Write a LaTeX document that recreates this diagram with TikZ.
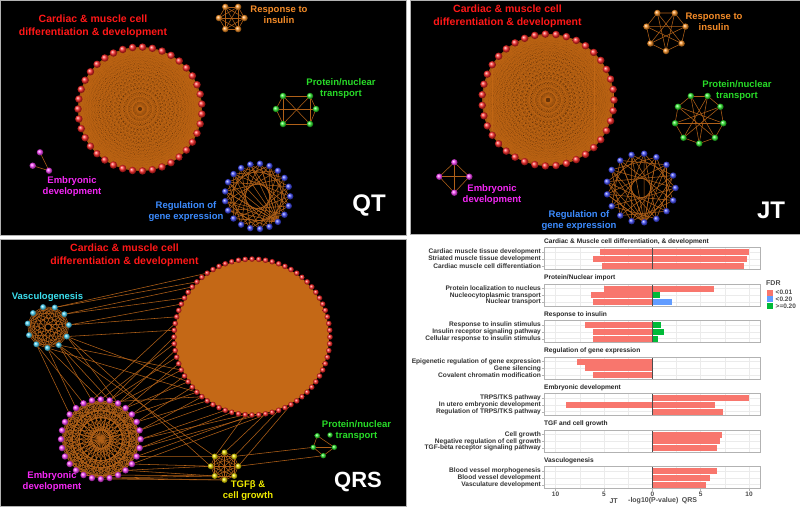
\documentclass[tikz,border=0pt]{standalone}
\usepackage{fontspec}
\setmainfont{Liberation Sans}
\usepackage{tikz}
\usetikzlibrary{positioning}

\definecolor{edgebrown}{RGB}{176,96,24}
\definecolor{hairorange}{RGB}{192,102,20}
\definecolor{hairfill}{RGB}{100,50,8}
\definecolor{qrsfill}{RGB}{196,104,22}
\definecolor{labred}{RGB}{255,24,24}
\definecolor{laborange}{RGB}{245,140,40}
\definecolor{labgreen}{RGB}{40,220,40}
\definecolor{labmagenta}{RGB}{245,40,245}
\definecolor{labblue}{RGB}{60,140,255}
\definecolor{labcyan}{RGB}{60,225,240}
\definecolor{labyellow}{RGB}{240,235,0}
\definecolor{ballred}{RGB}{255,40,40}
\definecolor{ballorange}{RGB}{255,150,40}
\definecolor{ballgreen}{RGB}{50,240,50}
\definecolor{ballmagenta}{RGB}{255,70,255}
\definecolor{ballblue}{RGB}{70,80,255}
\definecolor{ballcyan}{RGB}{80,220,255}
\definecolor{ballyellow}{RGB}{240,225,0}
\definecolor{fdrred}{HTML}{F8766D}
\definecolor{fdrblue}{HTML}{619CFF}
\definecolor{fdrgreen}{HTML}{00BA38}
\definecolor{gridgray}{HTML}{EBEBEB}
\definecolor{axisgray}{HTML}{4D4D4D}

\pgfdeclarelayer{panels}
\pgfdeclarelayer{edges}
\pgfsetlayers{panels,edges,main}

\begin{document}
\begin{tikzpicture}[x=1pt, y=-1pt,
    gball/.style={circle, inner sep=0pt, minimum size=#1, shade},
    redball/.style={gball=7.5pt, ball color=ballred},
    smallred/.style={gball=5.6pt, ball color=ballred},
    orangeball/.style={gball=6.5pt, ball color=ballorange},
    greenball/.style={gball=6.5pt, ball color=ballgreen},
    magentaball/.style={gball=6.5pt, ball color=ballmagenta},
    blueball/.style={gball=6.5pt, ball color=ballblue},
    cyanball/.style={gball=6pt, ball color=ballcyan},
    yellowball/.style={gball=6pt, ball color=ballyellow},
    hair/.style={draw=hairorange, line width=0.22pt},
    link/.style={draw=edgebrown, line width=0.55pt},
    nettitle/.style={font=\bfseries\fontsize{10.5}{13}\selectfont, text=labred, align=center, inner sep=0pt},
    netlabel/.style={font=\bfseries\fontsize{9.5}{11}\selectfont, align=center, inner sep=0pt},
    paneltag/.style={font=\bfseries\fontsize{24}{24}\selectfont, text=white, inner sep=0pt},
    panel/.style={fill=black, draw=gray!60, line width=0.8pt},
    facet/.style={draw=gray!60, line width=0.6pt},
    facettitle/.style={font=\bfseries\fontsize{6.6}{7}\selectfont, text=black!85, anchor=west, inner sep=0pt},
    rowlabel/.style={font=\bfseries\fontsize{6.6}{7}\selectfont, text=black!80, anchor=east, inner sep=0pt},
    ticklabel/.style={font=\bfseries\fontsize{6.5}{7}\selectfont, text=black!70, inner sep=0pt},
  ]
\useasboundingbox (0,0) rectangle (800,507);

% Panels
\begin{pgfonlayer}{panels}
  \fill[white] (0,0) rectangle (800,507);
  \draw[panel] (0,0) rectangle (406,235);
  \draw[panel] (410,0) rectangle (800,234);
  \draw[panel] (0,239) rectangle (406,506);
  \fill[hairfill] (140,109) circle (60pt);
  \fill[hairfill] (548,100) circle (64pt);
  \fill[qrsfill] (252,337) circle (77pt);
\end{pgfonlayer}

% QT nodes
\foreach \i in {1,...,39}
  \node[redball] (qtc\i) at ({140+62*cos(9.2308*\i-4.6)}, {109+62*sin(9.2308*\i-4.6)}) {};
\foreach \i in {1,...,6}
  \node[orangeball] (qti\i) at ({231.7+12.8*cos(60*\i)}, {18+12.8*sin(60*\i)}) {};
\node[greenball] (qtp1) at (283,96) {};
\node[greenball] (qtp2) at (310,96) {};
\node[greenball] (qtp3) at (316,109) {};
\node[greenball] (qtp4) at (310,124) {};
\node[greenball] (qtp5) at (283,124) {};
\node[greenball] (qtp6) at (276,109) {};
\node[magentaball] (qte1) at (40,152.3) {};
\node[magentaball] (qte2) at (32.7,165.7) {};
\node[magentaball] (qte3) at (49,170.7) {};
\foreach \i in {1,...,21}
  \node[blueball] (qtb\i) at ({257.5+32.7*cos(17.143*\i+34.3)}, {196.3+32.7*sin(17.143*\i+34.3)}) {};

% QT edges
\begin{pgfonlayer}{edges}
  \foreach \i in {1,...,38} {
    \pgfmathtruncatemacro\nxt{\i+1}
    \foreach \j in {\nxt,...,39}
      \draw[hair] (qtc\i.center) -- (qtc\j.center);
  }
  \foreach \i in {1,...,5} {
    \pgfmathtruncatemacro\nxt{\i+1}
    \foreach \j in {\nxt,...,6}
      \draw[link] (qti\i.center) -- (qti\j.center);
  }
  \foreach \a/\b in {1/2,2/4,4/5,5/1,1/4,2/5,6/1,6/5,3/2,3/4,6/3}
    \draw[link] (qtp\a.center) -- (qtp\b.center);
  \draw[link] (qte1.center) -- (qte3.center) (qte2.center) -- (qte3.center);
  \foreach \i in {1,...,21} {
    \foreach \k in {5,8} {
      \pgfmathtruncatemacro\j{mod(\i+\k-1,21)+1}
      \draw[link] (qtb\i.center) -- (qtb\j.center);
    }
  }
  \foreach \j in {6,...,16}
    \draw[link] (qtb1.center) -- (qtb\j.center);
\end{pgfonlayer}

% QT labels
\node[nettitle] (qtcardiac) at (93,26.5) {Cardiac \& muscle cell\\differentiation \& development};
\node[netlabel, text=laborange] (qtinsulin) at (279,15) {Response to\\insulin};
\node[netlabel, text=labgreen] (qtprotein) at (341,89) {Protein/nuclear\\transport};
\node[netlabel, text=labmagenta] (qtembryo) at (72,187) {Embryonic\\development};
\node[netlabel, text=labblue] (qtgene) at (186,212) {Regulation of\\gene expression};
\node[paneltag] (qttag) at (369,205) {QT};

% JT nodes
\foreach \i in {1,...,39}
  \node[redball] (jtc\i) at ({548+66*cos(9.2308*\i)}, {100+66*sin(9.2308*\i)}) {};
\foreach \i in {1,...,7}
  \node[orangeball] (jti\i) at ({666+20*cos(51.43*\i+244.3)}, {31+20*sin(51.43*\i+244.3)}) {};
\foreach \i in {1,...,9}
  \node[greenball] (jtp\i) at ({699.2+24.5*cos(40*\i+250)}, {119+24.5*sin(40*\i+250)}) {};
\node[magentaball] (jte1) at (454.3,162.3) {};
\node[magentaball] (jte2) at (439.3,176.7) {};
\node[magentaball] (jte3) at (469.3,176.7) {};
\node[magentaball] (jte4) at (454.3,192.7) {};
\foreach \i in {1,...,17}
  \node[blueball] (jtb\i) at ({641+34.5*cos(21.176*\i+63.5)}, {188+34.5*sin(21.176*\i+63.5)}) {};

% JT edges
\begin{pgfonlayer}{edges}
  \foreach \i in {1,...,38} {
    \pgfmathtruncatemacro\nxt{\i+1}
    \foreach \j in {\nxt,...,39}
      \draw[hair] (jtc\i.center) -- (jtc\j.center);
  }
  \foreach \i in {1,...,7} {
    \foreach \k in {1,3} {
      \pgfmathtruncatemacro\j{mod(\i+\k-1,7)+1}
      \draw[link] (jti\i.center) -- (jti\j.center);
    }
  }
  \foreach \i in {1,...,9} {
    \foreach \k in {1,4} {
      \pgfmathtruncatemacro\j{mod(\i+\k-1,9)+1}
      \draw[link] (jtp\i.center) -- (jtp\j.center);
    }
  }
  \foreach \a/\b in {1/2,1/3,2/4,3/4,2/3,1/4}
    \draw[link] (jte\a.center) -- (jte\b.center);
  \foreach \i in {1,...,17} {
    \foreach \k in {4,7} {
      \pgfmathtruncatemacro\j{mod(\i+\k-1,17)+1}
      \draw[link] (jtb\i.center) -- (jtb\j.center);
    }
  }
  \foreach \j in {5,...,14}
    \draw[link] (jtb1.center) -- (jtb\j.center);
\end{pgfonlayer}

% JT labels
\node[nettitle] (jtcardiac) at (507.5,16.5) {Cardiac \& muscle cell\\differentiation \& development};
\node[netlabel, text=laborange] (jtinsulin) at (714,21.5) {Response to\\insulin};
\node[netlabel, text=labgreen] (jtprotein) at (737,90.5) {Protein/nuclear\\transport};
\node[netlabel, text=labmagenta] (jtembryo) at (492,194.5) {Embryonic\\development};
\node[netlabel, text=labblue] (jtgene) at (579,221) {Regulation of\\gene expression};
\node[paneltag] (jttag) at (771,210) {JT};

% QRS nodes
\foreach \i in {1,...,72}
  \node[smallred] (qrsc\i) at ({252+78*cos(5*\i)}, {337+78*sin(5*\i)}) {};
\foreach \i in {1,...,11}
  \node[cyanball] (qrsv\i) at ({48.2+20.8*cos(32.727*\i-6.1)}, {327.2+20.8*sin(32.727*\i-6.1)}) {};
\foreach \i in {1,...,28}
  \node[magentaball] (qrse\i) at ({100.8+39.8*cos(12.857*\i)}, {439.2+39.8*sin(12.857*\i)}) {};
\foreach \i in {1,...,8}
  \node[yellowball] (qrst\i) at ({224.5+13.8*cos(45*\i)}, {466.2+13.8*sin(45*\i)}) {};
\node[greenball, minimum size=5.5pt] (qrsp1) at (317.3,435.7) {};
\node[greenball, minimum size=5.5pt] (qrsp2) at (330,435) {};
\node[greenball, minimum size=5.5pt] (qrsp3) at (334.3,447.3) {};
\node[greenball, minimum size=5.5pt] (qrsp4) at (323.3,455.7) {};
\node[greenball, minimum size=5.5pt] (qrsp5) at (313.3,447.3) {};

% QRS edges
\begin{pgfonlayer}{edges}
  \foreach \i in {1,...,10} {
    \pgfmathtruncatemacro\nxt{\i+1}
    \foreach \j in {\nxt,...,11}
      \draw[link] (qrsv\i.center) -- (qrsv\j.center);
  }
  \foreach \i in {1,...,28} {
    \foreach \k in {4,7,9,12,14} {
      \pgfmathtruncatemacro\j{mod(\i+\k-1,28)+1}
      \draw[link] (qrse\i.center) -- (qrse\j.center);
    }
  }
  \foreach \i in {1,...,7} {
    \pgfmathtruncatemacro\nxt{\i+1}
    \foreach \j in {\nxt,...,8}
      \draw[link] (qrst\i.center) -- (qrst\j.center);
  }
  \foreach \a/\b in {1/3,5/3,4/3,5/4,1/5}
    \draw[link] (qrsp\a.center) -- (qrsp\b.center);
  \foreach \a/\b in {qrsv9/qrsc47, qrsv9/qrsc45, qrsv10/qrsc44, qrsv10/qrsc42, qrsv11/qrsc41,
      qrsv11/qrsc39, qrsv1/qrsc37, qrsv4/qrse17, qrsv4/qrse19, qrsv3/qrse18, qrsv3/qrse21,
      qrsv2/qrse20, qrsv2/qrse22, qrsv1/qrse23, qrsv2/qrsc31, qrsv1/qrsc29, qrsv3/qrsc27,
      qrsv2/qrst5, qrsv1/qrst4, qrse20/qrsc38, qrse21/qrsc35, qrse22/qrsc36, qrse22/qrsc33,
      qrse23/qrsc31, qrse23/qrsc34, qrse24/qrsc29, qrse24/qrsc32, qrse25/qrsc27, qrse25/qrsc30,
      qrse26/qrsc25, qrse26/qrsc28, qrse27/qrsc24, qrse27/qrsc26, qrse28/qrsc22, qrse28/qrsc19,
      qrse1/qrsc21, qrse1/qrsc17, qrse2/qrsc18, qrse3/qrsc15, qrse19/qrsc26, qrse3/qrst4,
      qrse4/qrst4, qrse4/qrst3, qrse5/qrst3, qrse6/qrst3, qrse6/qrst2, qrse7/qrst2, qrse2/qrst5,
      qrsc16/qrst6, qrsc14/qrst7, qrsc19/qrst5, qrsc12/qrst8, qrst7/qrsp5, qrst8/qrsp4}
    \draw[link] (\a.center) -- (\b.center);
\end{pgfonlayer}

% QRS labels
\node[nettitle] (qrscardiac) at (124.5,255) {Cardiac \& muscle cell\\differentiation \& development};
\node[netlabel, text=labcyan] (qrsvasc) at (47.5,297) {Vasculogenesis};
\node[netlabel, text=labmagenta] (qrsembryo) at (52,481.5) {Embryonic\\development};
\node[netlabel, text=labyellow] (qrstgf) at (248,490.5) {TGFβ \&\\cell growth};
\node[netlabel, text=labgreen] (qrsprotein) at (356.5,431) {Protein/nuclear\\transport};
\node[paneltag, font=\bfseries\fontsize{22}{22}\selectfont] (qrstag) at (358,482) {QRS};

% Chart
\begin{scope}[shift={(652.3,0)}, x=9.67pt]
  \foreach \t/\name [count=\f] in {247.7/{Cardiac \& Muscle cell differentiation, \& development},
      284.2/{Protein/Nuclear import}, 320.7/{Response to insulin},
      357.2/{Regulation of gene expression}, 393.7/{Embryonic development},
      430.2/{TGF and cell growth}, 466.7/{Vasculogenesis}} {
    \node[facettitle] (facet\f) at (-11.2,\t-6) {\name};
    \foreach \g in {-10,-7.5,...,10}
      \draw[gridgray, line width=0.5pt] (\g,\t) -- (\g,\t+21.6);
    \foreach \r in {4.4,11.2,18} {
      \draw[gridgray, line width=0.5pt] (-11.2,\t+\r) -- (11.14,\t+\r);
      \draw[gray!60] (-11.45,\t+\r) -- (-11.2,\t+\r);
    }
  }
  \foreach \y/\l/\r/\c/\name [count=\k] in {
      252.1/5.4/10/fdrred/{Cardiac muscle tissue development},
      258.9/6.17/9.84/fdrred/{Striated muscle tissue development},
      265.7/5.2/9.5/fdrred/{Cardiac muscle cell differentiation},
      288.6/4.96/6.38/fdrred/{Protein localization to nucleus},
      295.4/6.34/0.8/fdrgreen/{Nucleocytoplasmic transport},
      302.2/6.1/2.0/fdrblue/{Nuclear transport},
      325.1/6.96/0.86/fdrgreen/{Response to insulin stimulus},
      331.9/6.17/1.24/fdrgreen/{Insulin receptor signaling pathway},
      338.7/6.17/0.62/fdrgreen/{Cellular response to insulin stimulus},
      361.6/7.79/0/fdrred/{Epigenetic regulation of gene expression},
      368.4/6.96/0/fdrred/{Gene silencing},
      375.2/6.13/0/fdrred/{Covalent chromatin modification},
      398.1/0/10/fdrred/{TRPS/TKS pathway},
      404.9/8.93/6.48/fdrred/{In utero embryonic development},
      411.7/0/7.28/fdrred/{Regulation of TRPS/TKS pathway},
      434.6/0/7.17/fdrred/{Cell growth},
      441.4/0/7.0/fdrred/{Negative regulation of cell growth},
      448.2/0/6.66/fdrred/{TGF-beta receptor signaling pathway},
      471.1/0/6.66/fdrred/{Blood vessel morphogenesis},
      477.9/0/5.97/fdrred/{Blood vessel development},
      484.7/0/5.55/fdrred/{Vasculature development}} {
    \node[rowlabel] (row\k) at (-11.5,\y) {\name};
    \fill[fdrred] (-\l,\y-3) rectangle (0,\y+3);
    \fill[\c] (0,\y-3) rectangle (\r,\y+3);
  }
  \foreach \t in {247.7,284.2,320.7,357.2,393.7,430.2,466.7} {
    \draw[axisgray, line width=0.8pt] (0,\t) -- (0,\t+21.6);
    \draw[facet] (-11.2,\t) rectangle (11.14,\t+21.6);
  }
  \foreach \v/\txt [count=\k] in {-10/10,-5/5,0/0,5/5,10/10} {
    \draw[gray!60] (\v,488.3) -- (\v,490.5);
    \node[ticklabel] (tick\k) at (\v,494) {\txt};
  }
  \node[ticklabel, font=\bfseries\fontsize{7}{7}\selectfont] (axjt) at (-4,501) {JT};
  \node[ticklabel, font=\bfseries\fontsize{7}{7}\selectfont] (axlog) at (0.1,501) {-log10(P-value)};
  \node[ticklabel, font=\bfseries\fontsize{7}{7}\selectfont] (axqrs) at (3.85,501) {QRS};
\end{scope}

% Legend
\node[ticklabel, font=\bfseries\fontsize{7}{7}\selectfont, anchor=west] (fdr) at (766,283.3) {FDR};
\foreach \c/\txt/\y [count=\k] in {fdrred/<0.01/292.7, fdrblue/<0.20/299.3, fdrgreen/>=0.20/306} {
  \fill[\c] (766.8,\y-3.1) rectangle (773.2,\y+3.1);
  \node[ticklabel, anchor=west] (key\k) at (775.5,\y) {\txt};
}
\end{tikzpicture}
\end{document}
